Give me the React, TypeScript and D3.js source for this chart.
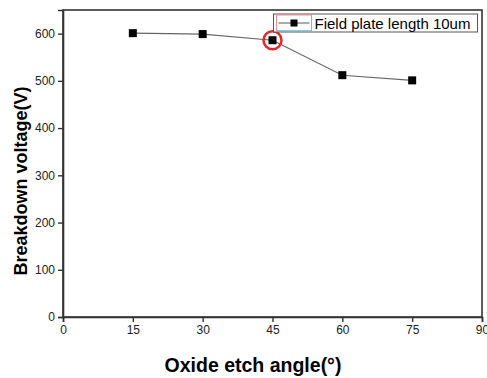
import React, { useEffect, useRef } from 'react';
import * as d3 from 'd3';

const width = 487;
const height = 378;
const margin = { top: 10, right: 5, bottom: 61, left: 63 };

const angles = [15, 30, 45, 60, 75];
const voltages = [601, 599, 586, 512, 501];
const xTicks = [0, 15, 30, 45, 60, 75, 90];
const yTicks = [0, 100, 200, 300, 400, 500, 600];
const legendLabel = 'Field plate length 10um';
const highlightAngle = 45;

function Chart() {
  const ref = useRef<SVGSVGElement>(null);

  useEffect(() => {
    const svg = d3.select(ref.current);
    svg.selectAll('*').remove();

    const innerW = width - margin.left - margin.right;
    const innerH = height - margin.top - margin.bottom;

    const x = d3.scaleLinear().domain([0, 90]).range([0, innerW]);
    const y = d3.scaleLinear().domain([0, 650]).range([innerH, 0]);

    const g = svg.append('g')
      .attr('transform', 'translate(' + margin.left + ',' + margin.top + ')');

    // frame
    g.append('rect')
      .attr('width', innerW)
      .attr('height', innerH)
      .attr('fill', 'none')
      .attr('stroke', '#333')
      .attr('stroke-width', 1.6);

    const xAxis = g.append('g')
      .attr('transform', 'translate(0,' + innerH + ')')
      .call(d3.axisBottom(x).tickValues(xTicks).tickSize(5).tickPadding(3));
    const yAxis = g.append('g')
      .call(d3.axisLeft(y).tickValues(yTicks).tickSize(5).tickPadding(3));

    [xAxis, yAxis].forEach((a) => {
      a.select('.domain').attr('stroke', '#333').attr('stroke-width', 1.6);
      a.selectAll('.tick line').attr('stroke', '#333').attr('stroke-width', 1.4);
      a.selectAll('.tick text')
        .attr('fill', '#222')
        .style('font-family', 'Arial, Liberation Sans, sans-serif')
        .style('font-size', '12px');
    });

    const line = d3.line<number>()
      .x((_, i) => x(angles[i]))
      .y((v) => y(v));

    g.append('path')
      .datum(voltages)
      .attr('fill', 'none')
      .attr('stroke', '#666')
      .attr('stroke-width', 1.1)
      .attr('d', line);

    g.selectAll('rect.pt')
      .data(voltages)
      .enter()
      .append('rect')
      .attr('class', 'pt')
      .attr('x', (_, i) => x(angles[i]) - 4)
      .attr('y', (v) => y(v) - 4)
      .attr('width', 8)
      .attr('height', 8)
      .attr('fill', '#000');

    const hi = angles.indexOf(highlightAngle);
    g.append('circle')
      .attr('cx', x(angles[hi]))
      .attr('cy', y(voltages[hi]))
      .attr('r', 9)
      .attr('fill', 'none')
      .attr('stroke', '#e8262b')
      .attr('stroke-width', 2.5);

    // legend
    const lg = g.append('g').attr('transform', 'translate(' + (x(45) + 1) + ',4)');
    lg.append('rect')
      .attr('width', 204)
      .attr('height', 18)
      .attr('fill', '#fff')
      .attr('stroke', '#555')
      .attr('stroke-width', 1);
    lg.append('rect')
      .attr('x', 3)
      .attr('y', 1)
      .attr('width', 35)
      .attr('height', 16)
      .attr('fill', 'none')
      .attr('stroke', '#f08a95')
      .attr('stroke-width', 1);
    lg.append('line')
      .attr('x1', 3).attr('x2', 38)
      .attr('y1', 17).attr('y2', 17)
      .attr('stroke', '#35c8e0')
      .attr('stroke-width', 1.2);
    lg.append('line')
      .attr('x1', 5).attr('x2', 36)
      .attr('y1', 9).attr('y2', 9)
      .attr('stroke', '#666')
      .attr('stroke-width', 1.1);
    lg.append('rect')
      .attr('x', 17).attr('y', 5.5)
      .attr('width', 7).attr('height', 7)
      .attr('fill', '#000');
    lg.append('text')
      .attr('x', 41)
      .attr('y', 14.5)
      .style('font-family', 'Arial, Liberation Sans, sans-serif')
      .style('font-size', '15px')
      .attr('fill', '#000')
      .text(legendLabel);

    // axis titles
    svg.append('text')
      .attr('transform', 'translate(27,' + 181 + ')rotate(-90)')
      .attr('text-anchor', 'middle')
      .style('font-family', 'Arial, Liberation Sans, sans-serif')
      .style('font-size', '18px')
      .style('font-weight', 'bold')
      .attr('fill', '#000')
      .text('Breakdown voltage(V)');

    svg.append('text')
      .attr('x', 253)
      .attr('y', 372)
      .attr('text-anchor', 'middle')
      .style('font-family', 'Arial, Liberation Sans, sans-serif')
      .style('font-size', '19.5px')
      .style('font-weight', 'bold')
      .attr('fill', '#000')
      .text('Oxide etch angle(°)');
  }, []);

  return (
    <svg
      ref={ref}
      width={width}
      height={height}
      style={{ display: 'block', position: 'absolute', left: 0, top: 0, background: '#fff' }}
    />
  );
}

export default function App() {
  return <Chart />;
}
